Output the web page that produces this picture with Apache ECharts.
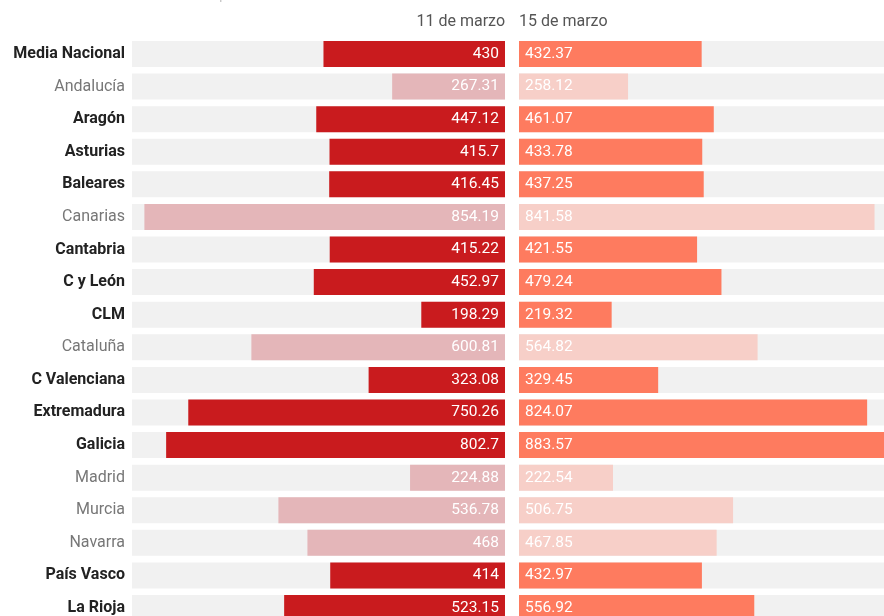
<!DOCTYPE html>
<html><head><meta charset="utf-8">
<script src="https://cdn.jsdelivr.net/npm/echarts@6/dist/echarts.min.js"></script>
<style>html,body{margin:0;padding:0;background:#fff}#c{width:884px;height:616px}</style>
</head><body><div id="c"></div>
<script>
const categories = ['Media Nacional','Andalucía','Aragón','Asturias','Baleares','Canarias','Cantabria','C y León','CLM','Cataluña','C Valenciana','Extremadura','Galicia','Madrid','Murcia','Navarra','País Vasco','La Rioja'];
const marzo11 = [430,267.31,447.12,415.7,416.45,854.19,415.22,452.97,198.29,600.81,323.08,750.26,802.7,224.88,536.78,468,414,523.15];
const marzo15 = [432.37,258.12,461.07,433.78,437.25,841.58,421.55,479.24,219.32,564.82,329.45,824.07,883.57,222.54,506.75,467.85,432.97,556.92];
const faded = ['Andalucía','Canarias','Cataluña','Madrid','Murcia','Navarra'];
const headers = ['11 de marzo','15 de marzo'];

const leftMax = 883.57;
const rightMax = 864;   // visible part of the right panel (cut off at the page edge)
const gridTop = 54, gridH = 554;
const chart = echarts.init(document.getElementById('c'));
const isF = c => faded.includes(c);
const lblFont = 15.5;
chart.setOption({
  animation:false,
  textStyle:{fontFamily:'Roboto'},
  graphic:[
    {type:'text', left:5, top:-12, style:{text:'Incidencia acumulada a 14 días por 100.000 habitantes', fill:'#c8c8c8', font:'15px Roboto'}},
    {type:'text', right:884-505, top:14, style:{text:headers[0], fill:'#555', font:'16px Roboto', align:'right'}},
    {type:'text', left:519, top:14, style:{text:headers[1], fill:'#555', font:'16px Roboto'}}
  ],
  grid:[
    {left:132, width:373, top:gridTop, height:gridH},
    {left:519, right:0, top:gridTop, height:gridH}
  ],
  xAxis:[
    {gridIndex:0, type:'value', min:0, max:leftMax, inverse:true, show:false},
    {gridIndex:1, type:'value', min:0, max:rightMax, show:false}
  ],
  yAxis:[
    {gridIndex:0, type:'category', data:categories, inverse:true, boundaryGap:false, axisLine:{show:false}, axisTick:{show:false},
     axisLabel:{margin:7, formatter:v => isF(v) ? '{f|'+v+'}' : '{b|'+v+'}',
       rich:{b:{fontWeight:'bold', color:'#222', fontSize:16, fontFamily:'Roboto'}, f:{color:'#777', fontSize:16, fontFamily:'Roboto'}}}},
    {gridIndex:1, type:'category', data:categories, inverse:true, boundaryGap:false, show:false}
  ],
  series:[
    {type:'bar', xAxisIndex:0, yAxisIndex:0, barWidth:26,
     showBackground:true, backgroundStyle:{color:'#f1f1f1'},
     data: marzo11.map((v,i)=>({value:v, itemStyle:{color: isF(categories[i]) ? '#e4b6b9' : '#c91b1e'}})),
     label:{show:true, position:'insideRight', distance:6, color:'#fff', fontSize:lblFont, fontFamily:'Roboto'}},
    {type:'bar', xAxisIndex:1, yAxisIndex:1, barWidth:26,
     showBackground:true, backgroundStyle:{color:'#f1f1f1'},
     data: marzo15.map((v,i)=>({value:v, itemStyle:{color: isF(categories[i]) ? '#f7cfc8' : '#fe7b5f'}})),
     label:{show:true, position:'insideLeft', distance:6, color:'#fff', fontSize:lblFont, fontFamily:'Roboto'}}
  ]
});
</script></body></html>
